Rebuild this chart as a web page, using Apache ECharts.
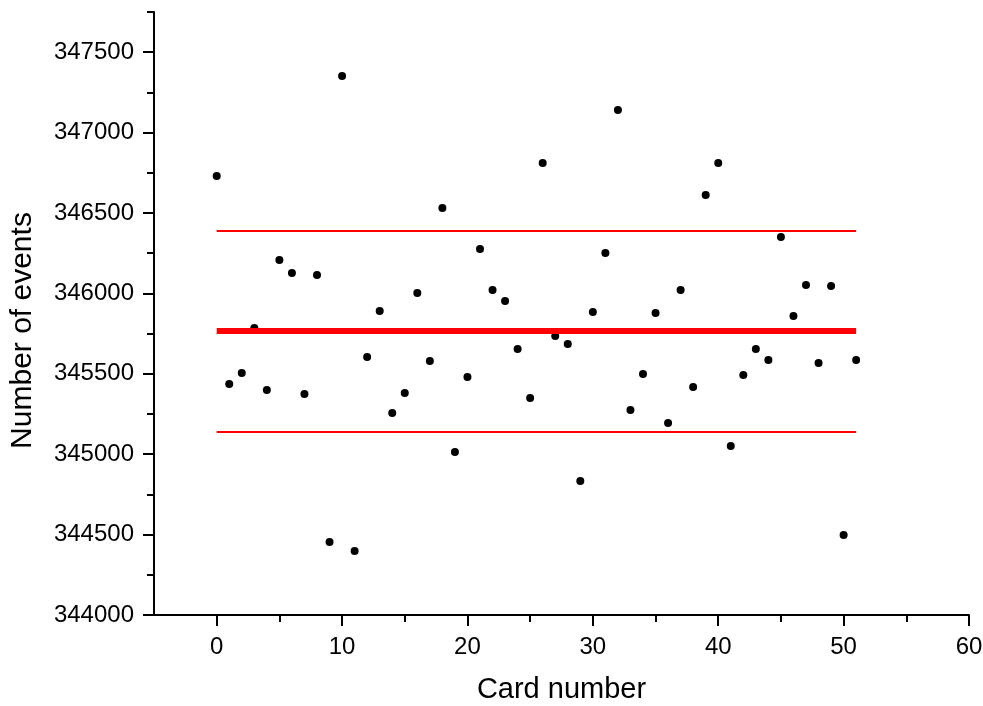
<!DOCTYPE html>
<html>
<head>
<meta charset="utf-8">
<script src="https://cdn.jsdelivr.net/npm/echarts@6/dist/echarts.min.js"></script>
<style>
  html, body { margin: 0; padding: 0; background: #fff; }
  #main { width: 983px; height: 706px; }
</style>
</head>
<body>
<div id="main"></div>
<script>
// card numbers 0..51 and event counts
var cardNumbers = [0,1,2,3,4,5,6,7,8,9,10,11,12,13,14,15,16,17,18,19,20,21,22,23,24,25,
  26,27,28,29,30,31,32,33,34,35,36,37,38,39,40,41,42,43,44,45,46,47,48,49,50,51];
var eventCounts = [346730,345437,345505,345785,345399,346208,346127,345374,346114,344454,
  347352,344398,345604,345891,345256,345381,346002,345580,346531,345014,
  345480,346276,346021,345953,345654,345350,346811,345735,345685,344833,
  345884,346251,347141,345275,345499,345878,345194,346021,345418,346612,
  346811,345051,345493,345654,345586,346351,345860,346052,345567,346046,
  344498,345586];
var meanValue = 345766;
var upperValue = 346388;
var lowerValue = 345138;

var xMajor = [0,10,20,30,40,50,60];
var xMinor = [5,15,25,35,45,55];
var yMajor = [344000,344500,345000,345500,346000,346500,347000,347500];
var yMinor = [344250,344750,345250,345750,346250,346750,347250,347750];

var font = 'Liberation Sans, Arial, sans-serif';
var chart = echarts.init(document.getElementById('main'));

var points = cardNumbers.map(function(c, i){ return [c, eventCounts[i]]; });
var first = cardNumbers[0], last = cardNumbers[cardNumbers.length - 1];

function hline(v, w){
  return {
    type: 'line', xAxisIndex: 0, yAxisIndex: 0,
    data: [[first, v], [last, v]],
    symbol: 'none', silent: true,
    lineStyle: { color: '#ff0000', width: w, opacity: 1 }
  };
}
function plain(v){ return String(v); }

chart.setOption({
  animation: false,
  grid: { left: 154, right: 14, top: 12, bottom: 91, containLabel: false, outerBoundsMode: 'none' },
  xAxis: [{
    type: 'value', min: -5, max: 60,
    name: 'Card number', nameLocation: 'middle', nameGap: 60,
    nameTextStyle: { fontFamily: font, fontSize: 29, color: '#000' },
    axisLine: { onZero: false, lineStyle: { color: '#000', width: 2 } },
    axisTick: { show: true, length: 11, customValues: xMajor, lineStyle: { color: '#000', width: 2 } },
    axisLabel: { customValues: xMajor, formatter: plain, margin: 20, fontFamily: font, fontSize: 24, color: '#000' },
    splitLine: { show: false }
  }, {
    type: 'value', min: -5, max: 60, position: 'bottom',
    axisLine: { show: false, onZero: false },
    axisTick: { show: true, length: 7, customValues: xMinor, lineStyle: { color: '#000', width: 2 } },
    axisLabel: { show: false },
    splitLine: { show: false }
  }],
  yAxis: [{
    type: 'value', min: 344000, max: 347750,
    name: 'Number of events', nameLocation: 'middle', nameGap: 116,
    nameTextStyle: { fontFamily: font, fontSize: 30, color: '#000', padding: [0, 34, 0, 0] },
    axisLine: { onZero: false, lineStyle: { color: '#000', width: 2 } },
    axisTick: { show: true, length: 11, customValues: yMajor, lineStyle: { color: '#000', width: 2 } },
    axisLabel: { customValues: yMajor, formatter: plain, margin: 20, fontFamily: font, fontSize: 24, color: '#000' },
    splitLine: { show: false }
  }, {
    type: 'value', min: 344000, max: 347750, position: 'left',
    axisLine: { show: false, onZero: false },
    axisTick: { show: true, length: 7, customValues: yMinor, lineStyle: { color: '#000', width: 2 } },
    axisLabel: { show: false },
    splitLine: { show: false }
  }],
  series: [
    hline(upperValue, 2),
    hline(lowerValue, 2),
    hline(meanValue, 6),
    {
      type: 'scatter', xAxisIndex: 0, yAxisIndex: 0,
      data: points, symbol: 'circle', symbolSize: 8,
      itemStyle: { color: '#000', opacity: 1 }
    }
  ]
});
</script>
</body>
</html>
